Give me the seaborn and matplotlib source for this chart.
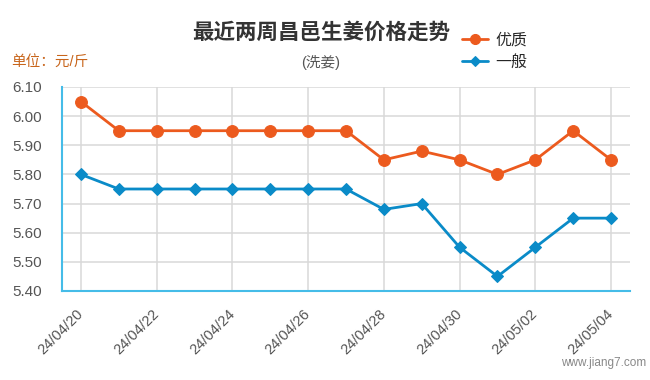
import numpy as np
import pandas as pd
import matplotlib
matplotlib.use('Agg')
import matplotlib.pyplot as plt
import seaborn as sns

# price data (元/斤)
dates = ['24/04/20', '24/04/21', '24/04/22', '24/04/23', '24/04/24',
         '24/04/25', '24/04/26', '24/04/27', '24/04/28', '24/04/29',
         '24/04/30', '24/05/01', '24/05/02', '24/05/03', '24/05/04']
youzhi = [6.05, 5.95, 5.95, 5.95, 5.95, 5.95, 5.95, 5.95,
          5.85, 5.88, 5.85, 5.80, 5.85, 5.95, 5.85]
yiban = [5.80, 5.75, 5.75, 5.75, 5.75, 5.75, 5.75, 5.75,
         5.68, 5.70, 5.55, 5.45, 5.55, 5.65, 5.65]
yticks = [5.40, 5.50, 5.60, 5.70, 5.80, 5.90, 6.00, 6.10]

orange = '#EC5A1E'
blue = '#0A8BC8'
axis_blue = '#45BCE8'
text_grey = '#555555'

sns.set_style('white')
plt.rcParams['font.family'] = ['Liberation Sans', 'Noto Sans CJK SC', 'DejaVu Sans']

df = pd.DataFrame({'idx': range(len(dates)), 'date': dates,
                   'youzhi': youzhi, 'yiban': yiban})

fig = plt.figure(figsize=(6.5, 3.8), dpi=100)
ax = fig.add_axes([62 / 650, 1 - 291 / 380, (630 - 62) / 650, (291 - 87) / 380])

sns.lineplot(data=df, x='idx', y='youzhi', ax=ax, color=orange, linewidth=2,
             marker='o', markersize=8.5, markeredgecolor=orange, label='优质')
sns.lineplot(data=df, x='idx', y='yiban', ax=ax, color=blue, linewidth=2,
             marker='D', markersize=6, markeredgecolor=blue, label='一般')

ax.set_xlim(-0.5, len(dates) - 0.5)
ax.set_ylim(yticks[0], yticks[-1])
ax.set_yticks(yticks)
ax.set_yticklabels(['%.2f' % v for v in yticks])
ax.set_xticks(df['idx'][::2])
ax.set_xticklabels(df['date'][::2], rotation=45, ha='right', va='center',
                   rotation_mode='anchor')
ax.set_xlabel('')
ax.set_ylabel('')

ax.grid(True, color='#d9d9d9', linewidth=1.1)
ax.set_axisbelow(True)
for s in ['top', 'right']:
    ax.spines[s].set_visible(False)
for s in ['left', 'bottom']:
    ax.spines[s].set_color(axis_blue)
    ax.spines[s].set_linewidth(1.5)
ax.tick_params(axis='y', length=9.5, width=1.3, color=axis_blue, pad=5,
               labelsize=11, labelcolor=text_grey)
ax.tick_params(axis='x', length=9, width=1.3, color=axis_blue, pad=6,
               labelsize=10.5, labelcolor=text_grey)

ax.legend(loc='upper left', bbox_to_anchor=(462 / 650, 1 - 33 / 380),
          bbox_transform=fig.transFigure, frameon=False, fontsize=11.5,
          handlelength=1.6, handletextpad=0.5, labelspacing=0.4,
          borderpad=0, borderaxespad=0, markerscale=0.85)

# titles and notes
fig.text(321 / 650, 1 - 33 / 380, '最近两周昌邑生姜价格走势', ha='center', va='center',
         fontsize=15.5, fontweight='bold', color='#333333')
fig.text(321 / 650, 1 - 62 / 380, '(洗姜)', ha='center', va='center',
         fontsize=10.5, color=text_grey)
fig.text(11 / 650, 1 - 62 / 380, '单位：元/斤', ha='left', va='center',
         fontsize=10.5, color='#C8651B')
fig.text(646 / 650, 1 - 363 / 380, 'www.jiang7.com', ha='right', va='center',
         fontsize=8.5, color='#888888')

fig.savefig('out.png', dpi=100)
